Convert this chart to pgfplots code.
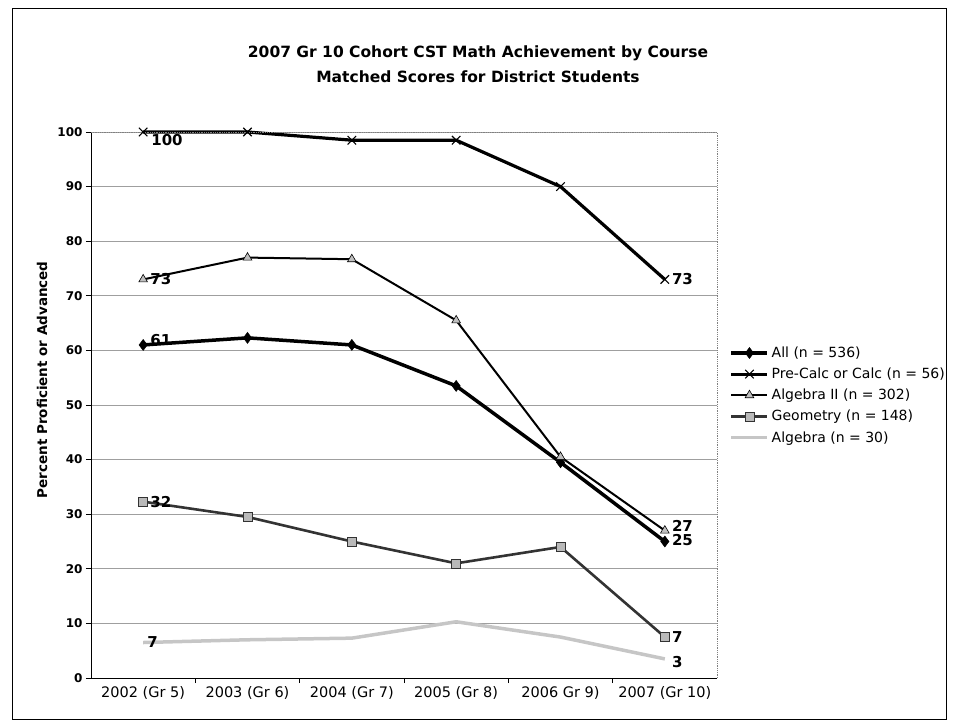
\documentclass[border=0pt]{standalone}
\usepackage{fontspec}
\setmainfont{DejaVu Sans}
\usepackage{pgfplots}
\pgfplotsset{compat=1.18}

\begin{document}
\begin{tikzpicture}
\useasboundingbox (0bp,0bp) rectangle (953bp,-727bp);
\draw[line width=1bp] (12bp,-8bp) rectangle (946bp,-719bp);
\node[font=\bfseries\fontsize{15.5bp}{25bp}\selectfont, align=center] at (478bp,-64bp)
  {2007 Gr 10 Cohort CST Math Achievement by Course\\Matched Scores for District Students};

\begin{axis}[
    at={(91bp,-678bp)}, anchor=south west,
    scale only axis, width=626bp, height=546bp,
    xmin=-0.5, xmax=5.5, ymin=0, ymax=100,
    clip=false,
    axis x line*=bottom, axis y line*=left,
    axis line style={line width=1bp, black},
    ytick={0,10,...,100},
    xtick={0,...,5},
    xticklabels={2002 (Gr 5),2003 (Gr 6),2004 (Gr 7),2005 (Gr 8),2006 Gr 9),2007 (Gr 10)},
    minor xtick={0.5,1.5,2.5,3.5,4.5},
    every major x tick/.append style={draw=none},
    tick align=outside,
    major tick length=5bp, minor tick length=5bp,
    tick style={black, line width=0.8bp},
    ymajorgrids,
    major y grid style={gray!75, line width=0.8bp},
    /pgf/number format/assume math mode=true,
    xticklabel style={font=\fontsize{14.5bp}{16bp}\selectfont},
    yticklabel style={font=\bfseries\fontsize{12bp}{14bp}\selectfont},
    ylabel={Percent Proficient or Advanced},
    every axis y label/.style={at={(axis description cs:-0.078,0.546)}, rotate=90, anchor=center,
      font=\bfseries\fontsize{13.5bp}{15bp}\selectfont},
    legend style={at={(axis description cs:1.02,0.615)}, anchor=north west, draw=none, fill=none,
      font=\fontsize{14bp}{16bp}\selectfont, row sep=4bp, inner xsep=0pt, nodes={inner sep=2.5bp}},
    legend cell align=left,
    legend image code/.code={\draw[mark repeat=2,mark phase=2,#1] plot coordinates {(0bp,0bp) (18bp,0bp) (36bp,0bp)};},
]
% All
\addplot[black, line width=3.5bp, mark=diamond*, mark size=5.5bp, mark options={line width=0.5bp}]
  coordinates {(0,61) (1,62.3) (2,61) (3,53.5) (4,39.5) (5,25)};
% Pre-Calc or Calc
\addplot[black, line width=3.2bp, mark=x, mark size=6bp, mark options={line width=1.1bp}]
  coordinates {(0,100) (1,100) (2,98.5) (3,98.5) (4,90) (5,73)};
% Algebra II
\addplot[black, line width=2bp, mark=triangle*, mark size=5bp, mark options={fill=gray!50, draw=black, line width=0.6bp}]
  coordinates {(0,73) (1,77) (2,76.7) (3,65.5) (4,40.5) (5,27)};
% Geometry
\addplot[black!80, line width=2.6bp, mark=square*, mark size=4.5bp, mark options={fill=gray!55, draw=black!80, line width=0.6bp}]
  coordinates {(0,32.3) (1,29.5) (2,25) (3,21) (4,24) (5,7.5)};
% Algebra
\addplot[gray!45, line width=3.5bp]
  coordinates {(0,6.5) (1,7) (2,7.3) (3,10.3) (4,7.5) (5,3.5)};
\legend{All (n = 536),Pre-Calc or Calc (n = 56),Algebra II (n = 302),Geometry (n = 148),Algebra (n = 30)}

\begin{scope}[every node/.style={font=\bfseries\fontsize{15bp}{16bp}\selectfont, inner sep=0pt}]
\node[anchor=north west, xshift=8bp, yshift=-2bp] at (axis cs:0,100) {100};
\node[anchor=west, xshift=7bp] at (axis cs:5,73) {73};
\node[anchor=west, xshift=7bp] at (axis cs:0,73) {73};
\node[anchor=west, xshift=7bp, yshift=5bp] at (axis cs:0,61) {61};
\node[anchor=west, xshift=7bp, yshift=5bp] at (axis cs:5,27) {27};
\node[anchor=west, xshift=7bp, yshift=1bp] at (axis cs:5,25) {25};
\node[anchor=west, xshift=7bp] at (axis cs:0,32.3) {32};
\node[anchor=west, xshift=7bp] at (axis cs:5,7.5) {7};
\node[anchor=west, xshift=4bp] at (axis cs:0,6.5) {7};
\node[anchor=west, xshift=7bp, yshift=-3bp] at (axis cs:5,3.5) {3};
\end{scope}
\draw[densely dotted, gray, line width=0.8bp] (rel axis cs:0,1) -- (rel axis cs:1,1) -- (rel axis cs:1,0);
\end{axis}
\end{tikzpicture}
\end{document}
